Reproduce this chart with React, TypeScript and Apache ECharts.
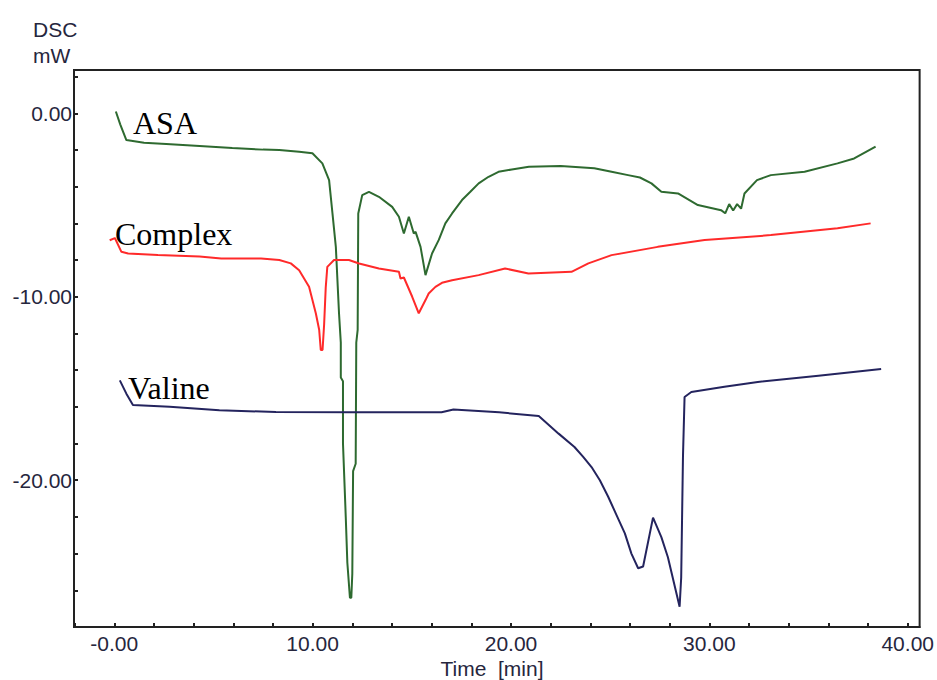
import React, { useEffect, useRef } from "react";
import * as echarts from "echarts";

const xTicks = [-2, 0, 2, 4, 6, 8, 10, 12, 14, 16, 18, 20, 22, 24, 26, 28, 30, 32, 34, 36, 38, 40];
const xLabels = [0, 10, 20, 30, 40];
const yTicks = [-28, -26, -24, -22, -20, -18, -16, -14, -12, -10, -8, -6, -4, -2, 0, 2];
const yLabels = [-20, -10, 0];

const asaData: number[][] = [
  [0.08, 0.1], [0.3, -0.6], [0.61, -1.46], [1.5, -1.6], [2.62, -1.67], [4.3, -1.78], [5.95, -1.89],
  [7.5, -1.98], [8.32, -2.0], [9.32, -2.09], [9.99, -2.18], [10.49, -2.73], [10.83, -3.64], [11.0, -5.46],
  [11.17, -7.28], [11.33, -10.9], [11.42, -12.5], [11.42, -14.4], [11.53, -14.6], [11.53, -18.0],
  [11.67, -22.0], [11.75, -24.5], [11.88, -26.4], [11.95, -26.4], [12.0, -25.1], [12.04, -19.5],
  [12.17, -19.1], [12.2, -12.5], [12.27, -11.8], [12.3, -5.46], [12.5, -4.46], [12.84, -4.28],
  [13.34, -4.55], [14.01, -5.1], [14.35, -5.64], [14.6, -6.55], [14.85, -5.64], [15.1, -6.55],
  [15.19, -6.46], [15.44, -7.28], [15.69, -8.82], [16.02, -7.64], [16.36, -6.9], [16.69, -6.0],
  [17.03, -5.46], [17.53, -4.73], [17.95, -4.28], [18.37, -3.82], [18.87, -3.46], [19.37, -3.19],
  [20.04, -3.06], [20.9, -2.91], [22.5, -2.87], [24.2, -3.0], [25.07, -3.19], [25.9, -3.37],
  [26.5, -3.5], [27.08, -3.82], [27.58, -4.28], [28.42, -4.37], [29.42, -5.0], [30.59, -5.28],
  [30.8, -5.45], [31.0, -4.95], [31.2, -5.3], [31.4, -4.95], [31.6, -5.2], [31.77, -4.37], [32.4, -3.64],
  [33.1, -3.37], [34.8, -3.19], [36.46, -2.73], [37.3, -2.46], [38.38, -1.82],
];

const complexData: number[][] = [
  [-0.23, -6.92], [0.03, -6.8], [0.36, -7.55], [0.7, -7.64], [2.2, -7.73], [4.3, -7.8], [5.39, -7.91],
  [7.4, -7.91], [8.32, -8.0], [8.9, -8.18], [9.32, -8.55], [9.82, -9.46], [10.16, -10.9], [10.33, -11.8],
  [10.41, -12.9], [10.5, -12.9], [10.58, -11.5], [10.66, -9.5], [10.74, -8.37], [11.08, -8.0],
  [11.83, -8.0], [12.34, -8.19], [13.34, -8.46], [14.35, -8.64], [14.43, -9.0], [14.6, -8.95],
  [15.02, -10.0], [15.35, -10.9], [15.69, -10.18], [15.85, -9.82], [16.19, -9.46], [16.52, -9.24],
  [17.03, -9.1], [18.37, -8.82], [19.7, -8.46], [20.88, -8.73], [23.05, -8.64], [23.9, -8.18],
  [25.07, -7.73], [27.4, -7.28], [29.76, -6.91], [33.1, -6.64], [36.46, -6.27], [38.13, -6.0],
];

const valineData: number[][] = [
  [0.28, -14.56], [0.61, -15.28], [0.94, -15.9], [2.79, -16.0], [5.3, -16.19], [8.15, -16.28],
  [12.0, -16.3], [16.5, -16.3], [17.1, -16.15], [19.4, -16.3], [21.4, -16.5], [22.4, -17.46],
  [23.2, -18.19], [23.64, -18.73], [24.06, -19.28], [24.48, -20.0], [24.9, -20.9], [25.32, -21.9],
  [25.74, -22.9], [26.07, -24.0], [26.41, -24.8], [26.66, -24.7], [27.16, -22.04], [27.58, -23.1],
  [27.91, -24.2], [28.5, -26.9], [28.58, -25.3], [28.67, -18.7], [28.75, -15.46], [29.09, -15.19],
  [30.76, -14.9], [32.44, -14.64], [35.5, -14.3], [38.66, -13.94],
];

const seriesNames = ["ASA", "Complex", "Valine"];
const seriesColors = ["#2e6a30", "#ff2a2a", "#24245e"];

export default function App() {
  const ref = useRef<HTMLDivElement>(null);
  useEffect(() => {
    if (!ref.current) return;
    const chart = echarts.init(ref.current, null, { renderer: "svg" });
    const labelColor = "#26263d";
    const sansFont = "21px 'Liberation Sans', Arial, sans-serif";
    const serifFont = "32px 'Liberation Serif', 'Times New Roman', serif";
    chart.setOption({
      animation: false,
      backgroundColor: "#ffffff",
      grid: {
        left: 74,
        right: 14,
        top: 70,
        bottom: 53,
        show: true,
        borderColor: "#222222",
        borderWidth: 2,
        backgroundColor: "transparent",
      },
      xAxis: {
        type: "value",
        min: -2.03,
        max: 40.6,
        axisLine: { show: true, onZero: false, lineStyle: { color: "#222222", width: 2 } },
        axisTick: {
          show: true,
          inside: true,
          length: 4,
          customValues: xTicks,
          lineStyle: { color: "#222222", width: 2 },
        },
        axisLabel: {
          customValues: xLabels,
          margin: 6,
          color: labelColor,
          fontSize: 21,
          fontFamily: "'Liberation Sans', Arial, sans-serif",
          formatter: (v: number) => (v === 0 ? "-0.00" : v.toFixed(2)),
        },
        splitLine: { show: false },
      },
      yAxis: {
        type: "value",
        min: -28.0,
        max: 2.36,
        axisLine: { show: true, onZero: false, lineStyle: { color: "#222222", width: 2 } },
        axisTick: {
          show: true,
          inside: true,
          length: 4,
          customValues: yTicks,
          lineStyle: { color: "#222222", width: 2 },
        },
        axisLabel: {
          customValues: yLabels,
          margin: 2,
          color: labelColor,
          fontSize: 21,
          fontFamily: "'Liberation Sans', Arial, sans-serif",
          formatter: (v: number) => v.toFixed(2),
        },
        splitLine: { show: false },
      },
      series: [asaData, complexData, valineData].map((d, i) => ({
        name: seriesNames[i],
        type: "line",
        data: d,
        showSymbol: false,
        symbol: "none",
        smooth: false,
        lineStyle: { color: seriesColors[i], width: 2 },
      })),
      graphic: [
        { type: "text", x: 33, y: 29, style: { text: "DSC", font: sansFont, fill: labelColor, align: "left", verticalAlign: "middle" } },
        { type: "text", x: 33, y: 55, style: { text: "mW", font: sansFont, fill: labelColor, align: "left", verticalAlign: "middle" } },
        { type: "text", x: 492, y: 668, style: { text: "Time\u00a0\u00a0[min]", font: sansFont, fill: labelColor, align: "center", verticalAlign: "middle" } },
        { type: "text", x: 133, y: 123, style: { text: seriesNames[0], font: serifFont, fill: "#000000", align: "left", verticalAlign: "middle" } },
        { type: "text", x: 115, y: 234, style: { text: seriesNames[1], font: serifFont, fill: "#000000", align: "left", verticalAlign: "middle" } },
        { type: "text", x: 128, y: 388, style: { text: seriesNames[2], font: serifFont, fill: "#000000", align: "left", verticalAlign: "middle" } },
      ],
    });
    return () => chart.dispose();
  }, []);
  return <div ref={ref} style={{ width: 937, height: 680, position: "absolute", left: 0, top: 0 }} />;
}
